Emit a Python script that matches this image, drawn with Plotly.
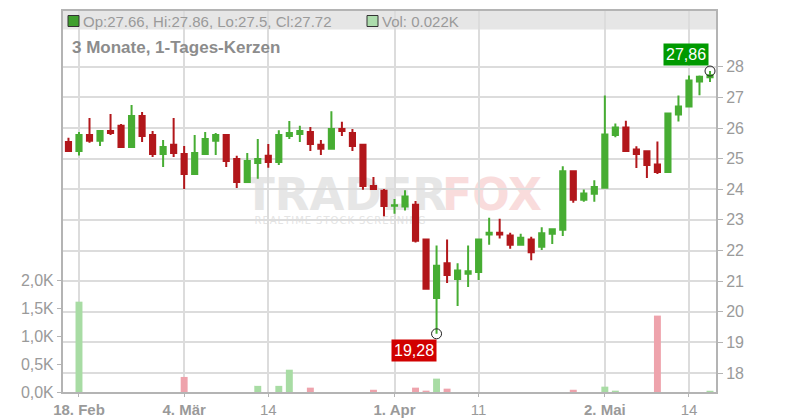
import plotly.graph_objects as go

# ---------------- data ----------------
dates = [
    "2019-02-15", "2019-02-18", "2019-02-19", "2019-02-20", "2019-02-21", "2019-02-22",
    "2019-02-25", "2019-02-26", "2019-02-27", "2019-02-28", "2019-03-01",
    "2019-03-04", "2019-03-05", "2019-03-06", "2019-03-07", "2019-03-08",
    "2019-03-11", "2019-03-12", "2019-03-13", "2019-03-14", "2019-03-15",
    "2019-03-18", "2019-03-19", "2019-03-20", "2019-03-21", "2019-03-22",
    "2019-03-25", "2019-03-26", "2019-03-27", "2019-03-28", "2019-03-29",
    "2019-04-01", "2019-04-02", "2019-04-03", "2019-04-04", "2019-04-05",
    "2019-04-08", "2019-04-09", "2019-04-10", "2019-04-11", "2019-04-12",
    "2019-04-15", "2019-04-16", "2019-04-17", "2019-04-18",
    "2019-04-23", "2019-04-24", "2019-04-25", "2019-04-26",
    "2019-04-29", "2019-04-30", "2019-05-02", "2019-05-03",
    "2019-05-06", "2019-05-07", "2019-05-08", "2019-05-09", "2019-05-10",
    "2019-05-13", "2019-05-14", "2019-05-15", "2019-05-16",
]
opens = [25.54, 25.25, 25.77, 25.58, 25.90, 26.07, 25.38, 26.39, 25.77, 25.15,
         25.45, 25.15, 24.50, 25.15, 25.58, 25.77, 24.99, 24.24, 24.86, 25.09,
         24.89, 25.74, 25.80, 25.87, 25.45, 25.32, 25.97, 25.84, 25.45, 24.11,
         23.95, 23.46, 23.44, 23.49, 22.36, 20.45, 21.58, 21.07, 21.24, 21.30,
         22.52, 22.58, 22.49, 22.19, 22.36, 22.12, 22.55, 22.68, 24.59, 23.66,
         23.85, 24.05, 25.77, 26.02, 25.30, 25.24, 24.81, 24.56, 26.44, 26.70,
         27.52, 27.66]
highs = [25.68, 25.87, 26.33, 25.93, 26.46, 26.13, 26.75, 26.52, 25.90, 25.61,
         26.33, 25.41, 25.77, 25.87, 25.84, 25.77, 25.09, 25.18, 25.64, 25.48,
         25.93, 26.23, 26.07, 26.03, 25.61, 26.55, 26.20, 25.97, 25.45, 24.40,
         24.01, 23.68, 23.97, 23.62, 22.39, 22.16, 22.36, 21.58, 22.16, 22.36,
         23.07, 23.04, 22.58, 22.55, 22.45, 22.76, 22.69, 24.75, 24.62, 23.99,
         24.29, 27.06, 26.15, 26.24, 25.40, 25.27, 25.56, 26.50, 27.06, 27.71,
         27.71, 27.86]
lows = [25.22, 25.10, 25.52, 25.41, 25.77, 25.38, 25.38, 25.54, 25.05, 24.73,
        25.05, 24.01, 24.50, 25.12, 25.12, 24.73, 24.04, 24.21, 24.34, 24.70,
        24.79, 25.64, 25.54, 25.25, 25.12, 25.32, 25.74, 25.25, 23.98, 23.98,
        23.12, 23.20, 23.31, 22.26, 20.75, 19.28, 20.94, 20.19, 20.81, 21.04,
        22.19, 22.39, 22.06, 22.19, 21.68, 22.02, 22.21, 22.47, 23.56, 23.59,
        23.59, 24.05, 25.70, 25.25, 24.69, 24.37, 24.50, 24.56, 26.21, 26.70,
        27.07, 27.50]
closes = [25.25, 25.77, 25.58, 25.90, 25.84, 25.38, 26.39, 25.74, 25.15, 25.38,
          25.18, 24.50, 25.18, 25.64, 25.77, 24.92, 24.24, 24.92, 24.99, 24.89,
          25.77, 25.84, 25.90, 25.48, 25.32, 25.97, 25.90, 25.41, 24.11, 24.01,
          23.45, 23.48, 23.76, 22.32, 20.75, 21.50, 21.20, 21.35, 21.32, 22.36,
          22.58, 22.52, 22.19, 22.42, 21.94, 22.56, 22.69, 24.59, 23.66, 23.86,
          24.07, 25.79, 26.02, 25.25, 25.15, 24.79, 24.56, 26.47, 26.70, 27.55,
          27.67, 27.72]
volumes_k = [0, 1.62, 0, 0, 0, 0, 0, 0, 0, 0,
             0, 0.27, 0, 0, 0, 0, 0, 0, 0.11, 0,
             0.11, 0.40, 0, 0.078, 0, 0, 0, 0, 0, 0.04,
             0, 0, 0, 0.078, 0.024, 0.24, 0.06, 0, 0, 0,
             0, 0, 0, 0, 0, 0, 0, 0, 0.04, 0,
             0, 0.096, 0.024, 0, 0, 0, 1.37, 0, 0, 0,
             0, 0.022]

tick_dates = ["2019-02-18", "2019-03-04", "2019-03-14", "2019-04-01",
              "2019-04-11", "2019-05-02", "2019-05-14"]
tick_labels = ["<b>18. Feb</b>", "<b>4. Mär</b>", "14", "<b>1. Apr</b>",
               "11", "<b>2. Mai</b>", "14"]
price_ticks = [18, 19, 20, 21, 22, 23, 24, 25, 26, 27, 28]
vol_ticks = [0, 0.5, 1.0, 1.5, 2.0]
vol_labels = ["0,0K", "0,5K", "1,0K", "1,5K", "2,0K"]

last_high_label = "27,86"
min_low_label = "19,28"
legend_ohlc = "Op:27.66, Hi:27.86, Lo:27.5, Cl:27.72"
legend_vol = "Vol: 0.022K"
title_text = "3 Monate, 1-Tages-Kerzen"

# ---------------- style ----------------
GREEN = "#47ad33"
RED = "#b2171b"
VOL_GREEN = "#a8dca4"
VOL_RED = "#eea3ac"
GRID = "#dcdcdc"
AXIS = "#b4b4b4"
TXT = "#9a9a9a"
FONT = "Liberation Sans, Arial, sans-serif"

W, H = 800, 420
L, R, T, B = 63, 84, 11, 28
PW, PH = W - L - R, H - T - B


def px(xp):
    return (xp - L) / PW


def py(yp):
    return (H - B - yp) / PH


vol_colors = [VOL_GREEN if c >= o else VOL_RED for o, c in zip(opens, closes)]

fig = go.Figure()

fig.add_trace(go.Bar(
    x=dates, y=volumes_k, yaxis="y2", marker=dict(color=vol_colors, line=dict(width=0)),
    width=0.66, showlegend=False, hoverinfo="skip",
))

fig.add_trace(go.Candlestick(
    x=dates, open=opens, high=highs, low=lows, close=closes,
    increasing=dict(line=dict(color=GREEN, width=2), fillcolor=GREEN),
    decreasing=dict(line=dict(color=RED, width=2), fillcolor=RED),
    whiskerwidth=0, showlegend=False, hoverinfo="skip",
))

# extreme markers
i_hi = len(dates) - 1
i_lo = lows.index(min(lows))
fig.add_trace(go.Scatter(
    x=[dates[i_hi], dates[i_lo]], y=[highs[i_hi], lows[i_lo]], mode="markers",
    marker=dict(symbol="circle-open", size=10, color="#222", line=dict(width=1)),
    showlegend=False, hoverinfo="skip",
))

shapes = [
    # header band
    dict(type="rect", xref="paper", yref="paper", x0=0, x1=1, y0=py(29.5), y1=1,
         fillcolor="#e6e6e6", line=dict(width=0), layer="below"),
    # legend squares
    dict(type="rect", xref="paper", yref="paper", x0=px(68), x1=px(79), y0=py(26.5), y1=py(15.5),
         fillcolor="#3f9f2e", line=dict(color="#333", width=1)),
    dict(type="rect", xref="paper", yref="paper", x0=px(367), x1=px(378), y0=py(26.5), y1=py(15.5),
         fillcolor="#acdcac", line=dict(color="#333", width=1)),
    # watermark
    dict(type="rect", xref="paper", yref="paper", x0=px(248), x1=px(443), y0=py(206), y1=py(176),
         line=dict(width=0), fillcolor="rgba(0,0,0,0)", layer="below",
         label=dict(text="TRADER", font=dict(family="DejaVu Sans", size=45, color="#e6e6e6",
                                             weight="bold"),
                    textposition="middle center")),
    dict(type="rect", xref="paper", yref="paper", x0=px(442), x1=px(542), y0=py(206), y1=py(176),
         line=dict(width=0), fillcolor="rgba(0,0,0,0)", layer="below",
         label=dict(text="FOX", font=dict(family="DejaVu Sans", size=44, color="#f9dcdc",
                                          weight="bold"),
                    textposition="middle center")),
    dict(type="rect", xref="paper", yref="paper", x0=px(250), x1=px(430), y0=py(224), y1=py(214),
         line=dict(width=0), fillcolor="rgba(0,0,0,0)", layer="below",
         label=dict(text="R\u200aE\u200aA\u200aL\u200aT\u200aI\u200aM\u200aE\u2002S\u200aT\u200aO\u200aC\u200aK\u2002S\u200aC\u200aR\u200aE\u200aE\u200aN\u200aI\u200aN\u200aG",
                    font=dict(family="DejaVu Sans", size=10, color="#e4e4e4"),
                    textposition="middle center")),
]

annotations = [
    dict(xref="paper", yref="paper", x=px(81), y=py(21), xanchor="left", yanchor="middle",
         text=legend_ohlc, showarrow=False, font=dict(family=FONT, size=15, color=TXT)),
    dict(xref="paper", yref="paper", x=px(380), y=py(21), xanchor="left", yanchor="middle",
         text=legend_vol, showarrow=False, font=dict(family=FONT, size=15, color=TXT)),
    dict(xref="paper", yref="paper", x=px(70), y=py(47), xanchor="left", yanchor="middle",
         text="<b>" + title_text + "</b>", showarrow=False,
         font=dict(family=FONT, size=17, color="#8c8c8c")),
    dict(x=dates[i_hi], y=highs[i_hi], xref="x", yref="y", text=last_high_label,
         showarrow=False, xanchor="right", yanchor="bottom", xshift=-1, yshift=5,
         bgcolor="#009a00", borderpad=2, font=dict(family=FONT, size=16, color="white")),
    dict(x=dates[i_lo], y=lows[i_lo], xref="x", yref="y", text=min_low_label,
         showarrow=False, xanchor="right", yanchor="top", xshift=0, yshift=-5,
         bgcolor="#d10000", borderpad=2, font=dict(family=FONT, size=16, color="white")),
]

fig.update_layout(
    width=W, height=H, autosize=False,
    margin=dict(l=L, r=R, t=T, b=B, pad=0, autoexpand=False),
    paper_bgcolor="white", plot_bgcolor="white",
    font=dict(family=FONT, color=TXT),
    showlegend=False,
    shapes=shapes, annotations=annotations,
    xaxis=dict(
        type="category", range=[-0.52, len(dates) - 0.43],
        rangeslider=dict(visible=False), automargin=False,
        tickvals=tick_dates, ticktext=tick_labels,
        showgrid=True, gridcolor=GRID, gridwidth=2,
        showline=True, linecolor=AXIS, linewidth=2, mirror=True,
        ticks="outside", ticklen=3, tickcolor=AXIS,
        tickfont=dict(family=FONT, size=15, color=TXT),
        fixedrange=True,
    ),
    yaxis=dict(
        side="right", range=[17.38, 29.82], automargin=False,
        tickvals=price_ticks, ticktext=[str(v) for v in price_ticks],
        showgrid=True, gridcolor=GRID, gridwidth=2, zeroline=False,
        showline=True, linecolor=AXIS, linewidth=2, mirror=True,
        ticks="outside", ticklen=5, tickcolor=AXIS,
        tickfont=dict(family=FONT, size=16, color=TXT),
        fixedrange=True,
    ),
    yaxis2=dict(
        overlaying="y", side="left", range=[0, 6.833], automargin=False,
        tickvals=vol_ticks, ticktext=vol_labels,
        showgrid=False, zeroline=False, showline=False,
        ticks="outside", ticklen=5, tickcolor=AXIS,
        tickfont=dict(family=FONT, size=16, color=TXT),
        fixedrange=True,
    ),
)

fig.write_html(
    "out.html",
    config={"displayModeBar": False, "staticPlot": True},
    post_script="document.body.style.margin='0';document.body.style.overflow='hidden';",
)
